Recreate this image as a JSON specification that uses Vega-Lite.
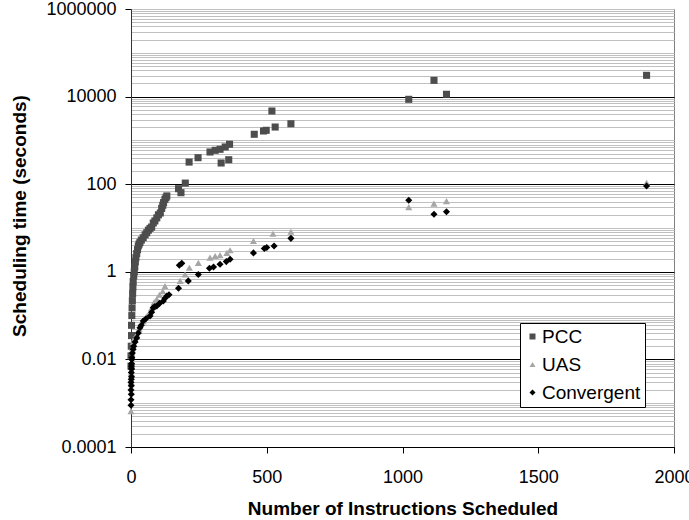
{
  "$schema": "https://vega.github.io/schema/vega-lite/v6.json",
  "width": 543,
  "height": 438,
  "autosize": {"type": "none"},
  "padding": {"left": 131, "top": 9, "right": 15, "bottom": 73},
  "background": "white",
  "config": {"view": {"stroke": "#808080", "strokeWidth": 1}, "font": "Liberation Sans"},
  "data": {"values": [
    {"s":"PCC","x":0,"y":0.007},{"s":"PCC","x":0,"y":0.012},{"s":"PCC","x":1,"y":0.02},{"s":"PCC","x":2,"y":0.035},{"s":"PCC","x":2,"y":0.06},{"s":"PCC","x":3,"y":0.1},{"s":"PCC","x":4,"y":0.15},{"s":"PCC","x":5,"y":0.22},{"s":"PCC","x":6,"y":0.32},{"s":"PCC","x":7,"y":0.45},{"s":"PCC","x":8,"y":0.6},{"s":"PCC","x":10,"y":0.8},{"s":"PCC","x":12,"y":1.0},{"s":"PCC","x":14,"y":1.3},{"s":"PCC","x":16,"y":1.7},{"s":"PCC","x":18,"y":2.1},{"s":"PCC","x":21,"y":2.6},{"s":"PCC","x":24,"y":3.2},{"s":"PCC","x":27,"y":3.9},{"s":"PCC","x":30,"y":4.3},{"s":"PCC","x":33,"y":4.7},{"s":"PCC","x":38,"y":5.3},{"s":"PCC","x":45,"y":6},{"s":"PCC","x":52,"y":7},{"s":"PCC","x":58,"y":7.8},{"s":"PCC","x":64,"y":8.9},{"s":"PCC","x":70,"y":9.8},{"s":"PCC","x":76,"y":10.5},{"s":"PCC","x":82,"y":13},{"s":"PCC","x":88,"y":14.5},{"s":"PCC","x":95,"y":17},{"s":"PCC","x":101,"y":20},{"s":"PCC","x":108,"y":22},{"s":"PCC","x":113,"y":28},{"s":"PCC","x":117,"y":33},{"s":"PCC","x":120,"y":38},{"s":"PCC","x":125,"y":45},{"s":"PCC","x":129,"y":50},{"s":"PCC","x":132,"y":54},{"s":"PCC","x":175,"y":79},{"s":"PCC","x":184,"y":64},{"s":"PCC","x":200,"y":106},{"s":"PCC","x":214,"y":320},{"s":"PCC","x":247,"y":403},{"s":"PCC","x":291,"y":543},{"s":"PCC","x":310,"y":594},{"s":"PCC","x":328,"y":627},{"s":"PCC","x":332,"y":305},{"s":"PCC","x":347,"y":708},{"s":"PCC","x":360,"y":362},{"s":"PCC","x":363,"y":815},{"s":"PCC","x":454,"y":1380},{"s":"PCC","x":488,"y":1640},{"s":"PCC","x":498,"y":1700},{"s":"PCC","x":519,"y":4690},{"s":"PCC","x":531,"y":2020},{"s":"PCC","x":589,"y":2400},{"s":"PCC","x":1023,"y":8670},{"s":"PCC","x":1116,"y":23500},{"s":"PCC","x":1162,"y":11300},{"s":"PCC","x":1899,"y":30600},
    {"s":"UAS","x":0,"y":0.00066},{"s":"UAS","x":1,"y":0.003},{"s":"UAS","x":1,"y":0.005},{"s":"UAS","x":2,"y":0.008},{"s":"UAS","x":3,"y":0.012},{"s":"UAS","x":5,"y":0.018},{"s":"UAS","x":8,"y":0.025},{"s":"UAS","x":12,"y":0.03},{"s":"UAS","x":21,"y":0.037},{"s":"UAS","x":30,"y":0.05},{"s":"UAS","x":45,"y":0.075},{"s":"UAS","x":60,"y":0.1},{"s":"UAS","x":70,"y":0.12},{"s":"UAS","x":76,"y":0.15},{"s":"UAS","x":85,"y":0.2},{"s":"UAS","x":95,"y":0.24},{"s":"UAS","x":105,"y":0.3},{"s":"UAS","x":117,"y":0.36},{"s":"UAS","x":125,"y":0.47},{"s":"UAS","x":181,"y":0.62},{"s":"UAS","x":199,"y":0.87},{"s":"UAS","x":215,"y":1.24},{"s":"UAS","x":248,"y":1.6},{"s":"UAS","x":291,"y":2.1},{"s":"UAS","x":310,"y":2.3},{"s":"UAS","x":328,"y":2.4},{"s":"UAS","x":353,"y":2.7},{"s":"UAS","x":365,"y":3.1},{"s":"UAS","x":451,"y":5.05},{"s":"UAS","x":523,"y":7.4},{"s":"UAS","x":589,"y":8.2},{"s":"UAS","x":1023,"y":30},{"s":"UAS","x":1116,"y":36},{"s":"UAS","x":1162,"y":41},{"s":"UAS","x":1899,"y":108},
    {"s":"Convergent","x":0,"y":0.0009},{"s":"Convergent","x":0,"y":0.0012},{"s":"Convergent","x":1,"y":0.0016},{"s":"Convergent","x":0,"y":0.002},{"s":"Convergent","x":1,"y":0.0025},{"s":"Convergent","x":0,"y":0.003},{"s":"Convergent","x":1,"y":0.0035},{"s":"Convergent","x":2,"y":0.004},{"s":"Convergent","x":1,"y":0.005},{"s":"Convergent","x":2,"y":0.006},{"s":"Convergent","x":1,"y":0.007},{"s":"Convergent","x":2,"y":0.008},{"s":"Convergent","x":3,"y":0.01},{"s":"Convergent","x":3,"y":0.011},{"s":"Convergent","x":5,"y":0.014},{"s":"Convergent","x":8,"y":0.017},{"s":"Convergent","x":10,"y":0.02},{"s":"Convergent","x":15,"y":0.025},{"s":"Convergent","x":21,"y":0.031},{"s":"Convergent","x":27,"y":0.04},{"s":"Convergent","x":33,"y":0.053},{"s":"Convergent","x":38,"y":0.06},{"s":"Convergent","x":45,"y":0.075},{"s":"Convergent","x":55,"y":0.085},{"s":"Convergent","x":70,"y":0.098},{"s":"Convergent","x":76,"y":0.12},{"s":"Convergent","x":82,"y":0.152},{"s":"Convergent","x":88,"y":0.16},{"s":"Convergent","x":95,"y":0.166},{"s":"Convergent","x":105,"y":0.19},{"s":"Convergent","x":119,"y":0.215},{"s":"Convergent","x":125,"y":0.25},{"s":"Convergent","x":132,"y":0.28},{"s":"Convergent","x":140,"y":0.3},{"s":"Convergent","x":175,"y":0.42},{"s":"Convergent","x":178,"y":1.41},{"s":"Convergent","x":187,"y":1.56},{"s":"Convergent","x":211,"y":0.62},{"s":"Convergent","x":248,"y":0.87},{"s":"Convergent","x":289,"y":1.2},{"s":"Convergent","x":304,"y":1.29},{"s":"Convergent","x":328,"y":1.49},{"s":"Convergent","x":351,"y":1.71},{"s":"Convergent","x":365,"y":1.93},{"s":"Convergent","x":451,"y":2.7},{"s":"Convergent","x":491,"y":3.4},{"s":"Convergent","x":500,"y":3.6},{"s":"Convergent","x":527,"y":3.9},{"s":"Convergent","x":589,"y":5.8},{"s":"Convergent","x":1023,"y":43},{"s":"Convergent","x":1116,"y":20.6},{"s":"Convergent","x":1162,"y":23.6},{"s":"Convergent","x":1899,"y":91}
  ]},
  "mark": {"type": "point", "filled": true, "opacity": 1, "size": 50, "strokeWidth": 0},
  "encoding": {
    "x": {
      "field": "x", "type": "quantitative",
      "scale": {"domain": [0, 2000], "nice": false, "zero": false},
      "axis": {
        "values": [0, 500, 1000, 1500, 2000], "format": "d",
        "title": "Number of Instructions Scheduled",
        "grid": false, "tickSize": 6, "tickColor": "#000000", "domainColor": "#000000",
        "labelFontSize": 18, "labelPadding": 15, "labelFlush": false, "labelOverlap": false, "labelColor": "#000000",
        "titleFontSize": 19, "titleFontWeight": "bold", "titleColor": "#000000",
        "titleBaseline": "alphabetic", "titleY": 67, "titleX": 271.5, "titleAlign": "center"
      }
    },
    "y": {
      "field": "y", "type": "quantitative",
      "scale": {"type": "log", "domain": [0.0001, 1000000], "nice": false},
      "axis": {
        "values": [0.0001,0.0002,0.0003,0.0004,0.0005,0.0006,0.0007,0.0008,0.0009,0.001,0.002,0.003,0.004,0.005,0.006,0.007,0.008,0.009,0.01,0.02,0.03,0.04,0.05,0.06,0.07,0.08,0.09,0.1,0.2,0.3,0.4,0.5,0.6,0.7,0.8,0.9,1,2,3,4,5,6,7,8,9,10,20,30,40,50,60,70,80,90,100,200,300,400,500,600,700,800,900,1000,2000,3000,4000,5000,6000,7000,8000,9000,10000,20000,30000,40000,50000,60000,70000,80000,90000,100000,200000,300000,400000,500000,600000,700000,800000,900000,1000000],
        "title": "Scheduling time (seconds)",
        "grid": true,
        "gridColor": {"condition": {"test": "abs(log(datum.value)/LN10 - 2*round(log(datum.value)/LN10/2)) < 0.01 && datum.value < 100000", "value": "#000000"}, "value": "#c0c0c0"},
        "gridWidth": 1, "gridOpacity": 1,
        "tickSize": 6, "tickColor": "#000000",
        "tickOpacity": {"condition": {"test": "abs(log(datum.value)/LN10 - 2*round(log(datum.value)/LN10/2)) < 0.01", "value": 1}, "value": 0},
        "domainColor": "#333333",
        "labelExpr": "abs(log(datum.value)/LN10 - 2*round(log(datum.value)/LN10/2)) < 0.01 ? format(datum.value, '~r') : ''",
        "labelFontSize": 18, "labelPadding": 9, "labelFlush": false, "labelOverlap": false, "labelColor": "#000000",
        "titleFontSize": 19, "titleFontWeight": "bold", "titleColor": "#000000",
        "titleAngle": -90, "titleBaseline": "alphabetic", "titleX": -105.5, "titleY": 206.5, "titleAlign": "center"
      }
    },
    "color": {
      "field": "s", "type": "nominal",
      "scale": {"domain": ["PCC", "UAS", "Convergent"], "range": ["#4d4d4d", "#a6a6a6", "#000000"]},
      "legend": {"title": null, "orient": "none", "legendX": 389, "legendY": 314, "fillColor": "#ffffff", "strokeColor": "#000000", "padding": 4, "rowPadding": 8, "labelFontSize": 19, "labelColor": "#000000", "labelOffset": 0, "symbolOffset": -1, "symbolSize": 36, "symbolStrokeWidth": 0}
    },
    "shape": {
      "field": "s", "type": "nominal",
      "scale": {"domain": ["PCC", "UAS", "Convergent"], "range": ["square", "triangle-up", "diamond"]},
      "legend": {"title": null, "orient": "none", "legendX": 389, "legendY": 314, "fillColor": "#ffffff", "strokeColor": "#000000", "padding": 4, "rowPadding": 8, "labelFontSize": 19, "labelColor": "#000000", "labelOffset": 0, "symbolOffset": -1, "symbolSize": 36, "symbolStrokeWidth": 0}
    }
  }
}
